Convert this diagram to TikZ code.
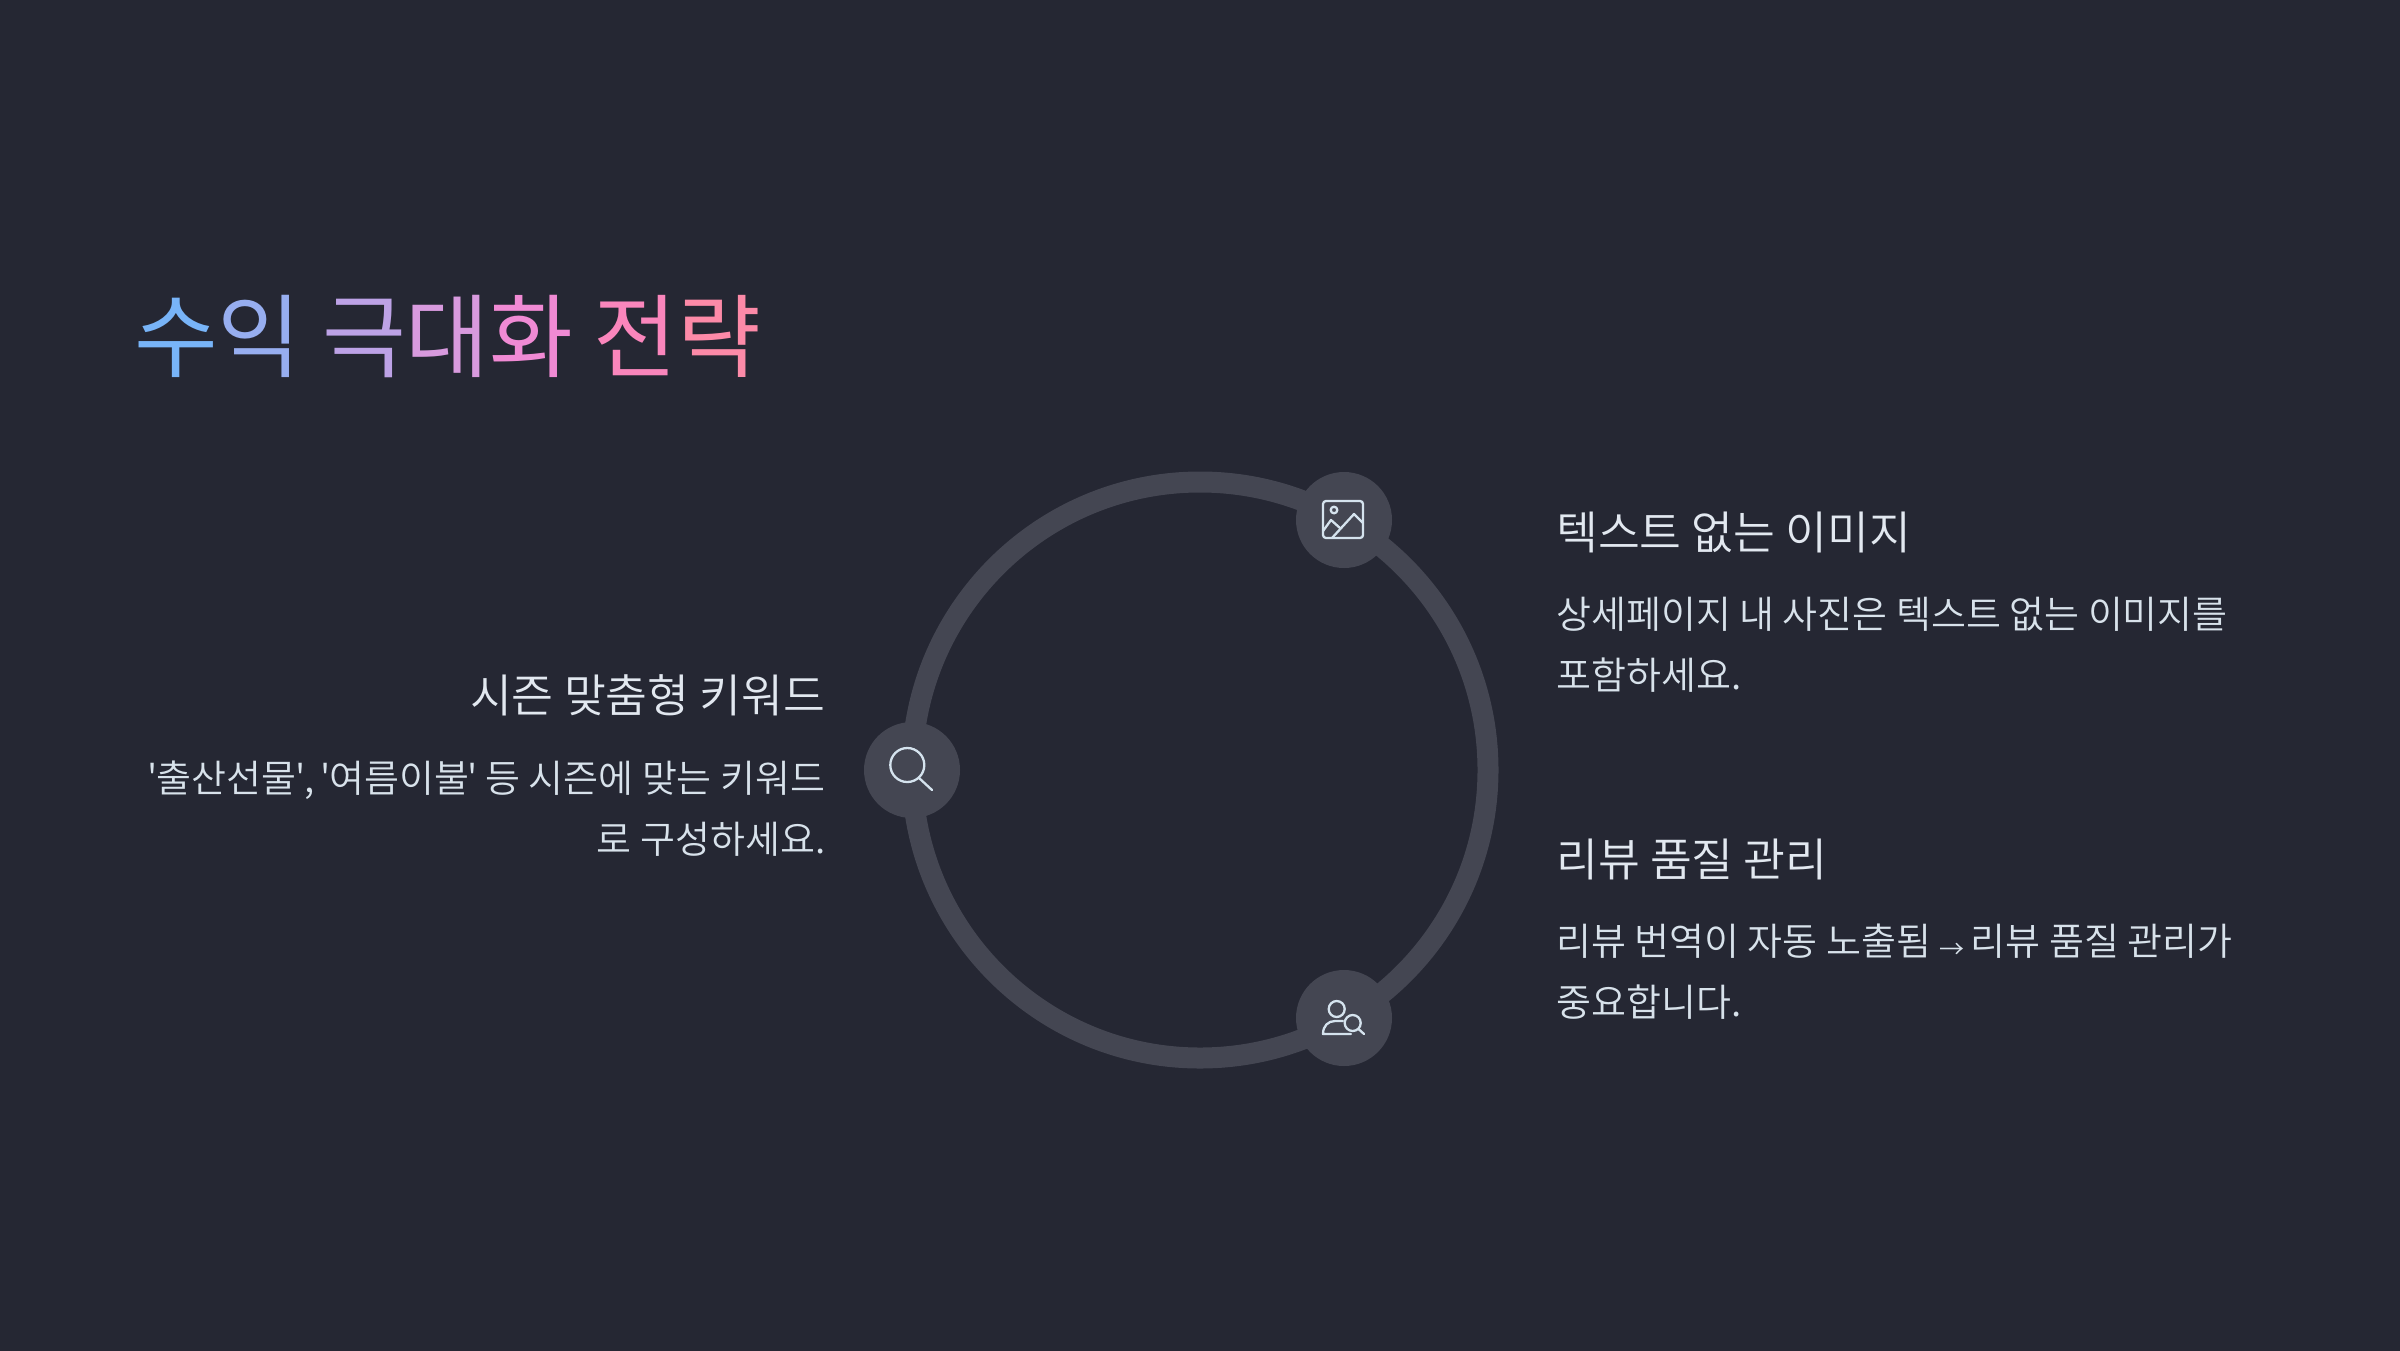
\documentclass[tikz,border=0pt]{standalone}
\usepackage{fontspec}
\setmainfont{Noto Sans CJK KR DemiLight}
\newfontfamily\titlefont{Noto Sans CJK KR}
\definecolor{bgdark}{HTML}{252733}
\definecolor{ringgray}{HTML}{444652}
\definecolor{headtext}{HTML}{E2E8F0}
\definecolor{bodytext}{HTML}{D8E2EB}
\definecolor{iconline}{HTML}{D5E3EE}
\newcommand{\gradletter}[2]{\textcolor[HTML]{#1}{#2}}
\newcommand{\tightquote}{\kern-1.2pt\textquotesingle\kern-1.2pt}
\tikzset{
    iconbg/.style={circle, fill=ringgray, minimum size=96pt, inner sep=0pt},
    icon/.style={draw=iconline, line width=2.3pt, line cap=round, line join=round},
    headleft/.style={anchor=base west, text=headtext, font=\fontsize{45.5}{45.5}\selectfont},
    bodyleft/.style={anchor=base west, text=bodytext, align=left, font=\fontsize{38}{61}\selectfont},
    headright/.style={anchor=base east, text=headtext, font=\fontsize{45.5}{45.5}\selectfont},
    bodyright/.style={anchor=base east, text=bodytext, align=right, font=\fontsize{38}{61}\selectfont}
}
\begin{document}
\begin{tikzpicture}[x=1pt, y=-1pt]
\useasboundingbox (0,0) rectangle (2400,1350);
\fill[bgdark] (-5,-5) rectangle (2405,1355);
% title
\node[anchor=base west, inner sep=0pt, font=\titlefont\fontsize{91}{91}\selectfont] (title) at (134,370)
    {\gradletter{78B4F8}{수}\gradletter{97AEF0}{익} \gradletter{BDA2E6}{극}\gradletter{D89ADE}{대}\gradletter{F08AD4}{화} \gradletter{FA86BC}{전}\gradletter{FC8AA8}{략}};
% ring
\draw[ringgray, line width=21pt] (1200,770) circle (288);
\node[iconbg] (imgdot) at (1344,520) {};
\node[iconbg] (userdot) at (1344,1018) {};
\node[iconbg] (searchdot) at (912,770) {};
% image icon
\draw[icon, rounded corners=3pt] (1323,501) rectangle (1363,538);
\draw[icon] (1334,510) circle (3.3);
\draw[icon] (1323,531) -- (1331,520) -- (1340,528);
\draw[icon] (1332,538) -- (1354,514) -- (1363,523);
% user search icon
\draw[icon] (1336.7,1009) circle (8);
\draw[icon] (1351,1034) -- (1323,1034) .. controls (1323,1026) and (1328,1021) .. (1335,1021) -- (1343,1021);
\draw[icon] (1352.7,1023) circle (8);
\draw[icon] (1358.5,1029) -- (1364,1034);
% search icon
\draw[icon] (907.3,765) circle (17);
\draw[icon] (919,778) -- (932,790);
% left text
\node[headright, inner sep=0pt] (seasonhead) at (825.5,712) {시즌 맞춤형 키워드};
\node[bodyright, inner sep=0pt] (seasonbody) at (825.5,853) {\tightquote 출산선물\tightquote,\kern-2pt{} \tightquote 여름이불\tightquote{} 등 시즌에 맞는 키워드\\로 구성하세요.};
% right text
\node[headleft, inner sep=0pt] (imagehead) at (1556,549) {텍스트 없는 이미지};
\node[bodyleft, inner sep=0pt] (imagebody) at (1556,689) {상세페이지 내 사진은 텍스트 없는 이미지를\\포함하세요.};
\node[headleft, inner sep=0pt] (reviewhead) at (1556,876) {리뷰 품질 관리};
\node[bodyleft, inner sep=0pt] (reviewbody) at (1556,1016) {리뷰 번역이 자동 노출됨 \raisebox{-3pt}{\fontsize{25}{25}\selectfont →}\kern-2.5pt{} 리뷰 품질 관리가\\중요합니다.};
\end{tikzpicture}
\end{document}
